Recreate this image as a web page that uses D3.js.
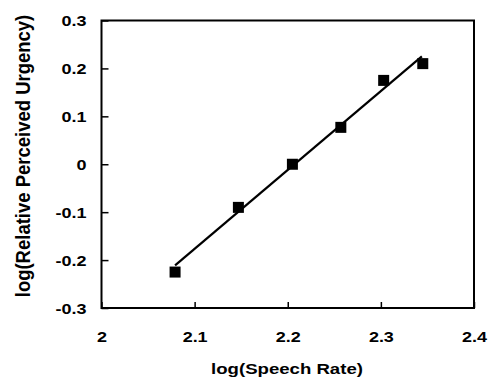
<!DOCTYPE html>
<html>
<head>
<meta charset="utf-8">
<script src="https://d3js.org/d3.v7.min.js"></script>
<style>
  body { margin: 0; background: #fff; }
  text { font-family: "Liberation Sans", Arial, sans-serif; font-weight: bold; fill: #000; }
</style>
</head>
<body>
<script>
// data
var speechRate = [2.079, 2.147, 2.205, 2.257, 2.303, 2.345];
var urgency = [-0.225, -0.090, 0.000, 0.077, 0.175, 0.210];
// fitted regression line endpoints
var fitX = [2.079, 2.344];
var fitY = [-0.211, 0.225];
var xTicks = [2, 2.1, 2.2, 2.3, 2.4];
var yTicks = [-0.3, -0.2, -0.1, 0, 0.1, 0.2, 0.3];

var width = 490, height = 380;
var plotL = 101.5, plotR = 474, plotT = 20.5, plotB = 308;
var stretch = 1.2;

var svg = d3.select("body").append("svg")
  .attr("width", width)
  .attr("height", height);

var x = d3.scaleLinear().domain([2, 2.4]).range([plotL, plotR]);
var y = d3.scaleLinear().domain([-0.3, 0.3]).range([plotB, plotT]);

var fmt = function(d) { return d === 0 ? "0" : String(+d.toFixed(1)); };

// y axis
var yAxis = d3.axisLeft(y).tickValues(yTicks).tickFormat(fmt)
  .tickSizeInner(-7).tickSizeOuter(0);
var gy = svg.append("g").attr("transform", "translate(" + plotL + ",0)").call(yAxis);
gy.select(".domain").remove();
gy.selectAll(".tick line").attr("stroke", "#000").attr("stroke-width", 1.5);
gy.selectAll(".tick text")
  .attr("x", -15 / stretch)
  .attr("dy", "0.36em")
  .attr("transform", "scale(" + stretch + ",1)")
  .style("font-size", "15px");

// x axis
var xAxis = d3.axisBottom(x).tickValues(xTicks).tickFormat(fmt)
  .tickSizeInner(-6).tickSizeOuter(0);
var gx = svg.append("g").attr("transform", "translate(0," + plotB + ")").call(xAxis);
gx.select(".domain").remove();
gx.selectAll(".tick line").attr("stroke", "#000").attr("stroke-width", 1.5);
gx.selectAll(".tick text")
  .attr("y", 23.5)
  .attr("dy", "0.71em")
  .attr("transform", "scale(" + stretch + ",1)")
  .style("font-size", "15px");

// frame
svg.append("rect")
  .attr("x", plotL).attr("y", plotT)
  .attr("width", plotR - plotL).attr("height", plotB - plotT)
  .attr("fill", "none").attr("stroke", "#000").attr("stroke-width", 2);

// fit line
var line = d3.line().x(function(d) { return x(d[0]); }).y(function(d) { return y(d[1]); });
svg.append("path")
  .datum(d3.zip(fitX, fitY))
  .attr("d", line)
  .attr("fill", "none").attr("stroke", "#000").attr("stroke-width", 2.2);

// markers
var sz = 11;
svg.selectAll("rect.pt")
  .data(d3.zip(speechRate, urgency))
  .enter().append("rect")
  .attr("class", "pt")
  .attr("x", function(d) { return x(d[0]) - sz / 2; })
  .attr("y", function(d) { return y(d[1]) - sz / 2; })
  .attr("width", sz).attr("height", sz)
  .attr("fill", "#000");

// axis titles
svg.append("text")
  .attr("transform", "translate(287,374) scale(1.2,1)")
  .attr("text-anchor", "middle")
  .style("font-size", "15.5px")
  .text("log(Speech Rate)");

svg.append("text")
  .attr("transform", "translate(30,156) rotate(-90) scale(1,1.12)")
  .attr("text-anchor", "middle")
  .style("font-size", "18.5px")
  .text("log(Relative Perceived Urgency)");
</script>
</body>
</html>
